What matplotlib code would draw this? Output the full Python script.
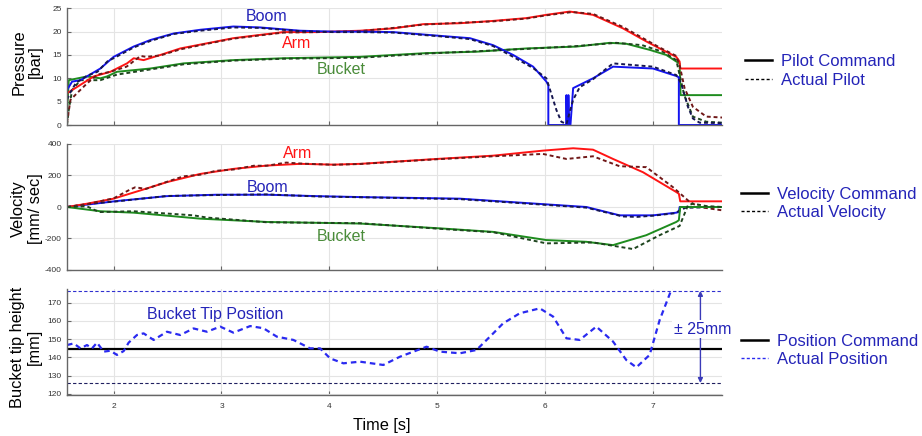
import matplotlib
matplotlib.use("Agg")
import matplotlib.pyplot as plt
from matplotlib.lines import Line2D

plt.rcParams["font.family"] = ["Liberation Sans", "DejaVu Sans"]
plt.rcParams["axes.unicode_minus"] = False

# ---------------- pressure [bar] ----------------
boom_cmd_t = [1.568, 1.615, 1.692, 1.877, 2.0, 2.185, 2.34, 2.556, 2.803, 3.11, 3.358, 3.729,
              4.037, 4.284, 4.593, 5.025, 5.303, 5.519, 5.704, 5.889, 6.012, 6.03, 6.03, 6.195,
              6.198, 6.203, 6.213, 6.216, 6.222, 6.235, 6.26, 6.444, 6.63, 7.0, 7.216, 7.24, 7.24, 7.64]
boom_cmd_p = [7.5, 9.3, 9.6, 12.1, 14.6, 16.8, 18.2, 19.6, 20.4, 21.1, 20.9, 20.2,
              20.0, 20.0, 19.9, 19.1, 18.6, 17.1, 15.0, 12.5, 9.3, 8.5, 0, 0,
              6.4, 0, 0, 6.4, 0, 0, 7.9, 10.0, 12.5, 12.1, 10.5, 10.2, 0, 0]
boom_act_t = [1.568, 1.6, 1.65, 1.75, 1.85, 1.95, 2.0, 2.185, 2.34, 2.556, 2.803, 3.11, 3.358,
              3.729, 4.037, 4.284, 4.593, 5.025, 5.303, 5.519, 5.704, 5.889, 6.012, 6.06, 6.105,
              6.151, 6.198, 6.26, 6.321, 6.444, 6.63, 7.0, 7.216, 7.262, 7.324, 7.37, 7.432, 7.64]
boom_act_p = [5.5, 7.0, 9.0, 10.5, 11.4, 13.8, 14.3, 16.6, 18.0, 19.5, 20.2, 20.9, 20.8,
              20.1, 19.9, 19.9, 19.8, 19.0, 18.4, 16.9, 14.6, 12.2, 10.0, 6.5, 3.2,
              0.7, 0.2, 5.4, 8.1, 9.8, 13.2, 12.5, 10.7, 8.9, 3.9, 1.4, 0.5, 0.4]

arm_cmd_t = [1.568, 1.692, 1.815, 1.97, 2.124, 2.186, 2.278, 2.433, 2.618, 2.865, 3.11, 3.358,
             3.574, 3.883, 4.284, 4.593, 4.87, 5.21, 5.519, 5.827, 6.012, 6.228, 6.444, 6.722,
             6.938, 7.062, 7.216, 7.247, 7.253, 7.64]
arm_cmd_p = [6.8, 8.6, 10.4, 11.4, 13.2, 14.3, 13.9, 15.0, 16.4, 17.5, 18.6, 19.3,
             19.9, 19.9, 20.2, 20.7, 21.6, 21.8, 22.3, 22.9, 23.6, 24.3, 23.6, 20.7,
             17.9, 16.4, 14.6, 13.6, 12.1, 12.1]
arm_act_t = [1.568, 1.6, 1.66, 1.753, 1.85, 1.97, 2.12, 2.25, 2.3, 2.433, 2.618, 2.865, 3.11,
             3.358, 3.574, 3.883, 4.284, 4.593, 4.87, 5.21, 5.519, 5.827, 6.012, 6.25, 6.444,
             6.722, 6.938, 7.062, 7.216, 7.25, 7.293, 7.37, 7.494, 7.64]
arm_act_p = [0.5, 5.4, 6.8, 8.9, 10.8, 11.4, 12.5, 14.8, 14.6, 14.9, 16.2, 17.4, 18.5,
             19.2, 19.8, 19.9, 20.1, 20.8, 21.5, 21.9, 22.2, 22.8, 23.5, 24.2, 23.8,
             21.0, 18.2, 16.6, 14.8, 12.5, 7.9, 3.9, 1.8, 1.6]

bucket_cmd_t = [1.568, 1.584, 1.753, 1.877, 1.939, 2.031, 2.34, 2.648, 3.11, 3.574, 4.284, 4.9,
                5.364, 5.827, 6.29, 6.599, 6.753, 6.969, 7.124, 7.216, 7.247, 7.256, 7.64]
bucket_cmd_p = [2.5, 9.6, 10.4, 10.0, 10.4, 11.4, 12.1, 13.2, 13.9, 14.3, 14.6, 15.4,
                15.7, 16.4, 16.8, 17.6, 17.4, 16.1, 15.0, 13.6, 13.2, 6.4, 6.4]
bucket_act_t = [1.568, 1.584, 1.615, 1.692, 1.877, 2.031, 2.34, 2.648, 3.11, 3.574, 4.284, 4.9,
                5.364, 5.827, 6.29, 6.66, 6.9, 7.1, 7.216, 7.29, 7.37, 7.494, 7.64]
bucket_act_p = [0, 3.2, 7.5, 9.6, 9.6, 10.8, 11.9, 13.0, 13.8, 14.2, 14.4, 15.3,
                15.8, 16.3, 16.9, 17.6, 17.1, 15.6, 13.9, 6.4, 1.8, 0.7, 0.5]

# ---------------- velocity [mm/sec] ----------------
arm_vcmd_t = [1.568, 1.753, 2.0, 2.247, 2.494, 2.803, 3.11, 3.42, 3.729, 4.037, 4.284, 4.994,
              5.519, 5.981, 6.26, 6.444, 6.63, 6.907, 7.216, 7.24, 7.253, 7.64]
arm_vcmd_v = [0, 21, 53, 105, 158, 210, 242, 263, 274, 269, 274, 305,
              326, 358, 373, 364, 305, 221, 95, 84, 36, 36]
arm_vact_t = [1.568, 1.753, 2.0, 2.15, 2.2, 2.3, 2.494, 2.65, 2.803, 2.95, 3.11, 3.3, 3.42,
              3.6, 3.729, 4.037, 4.284, 4.994, 5.519, 5.98, 6.198, 6.444, 6.69, 6.938, 7.185,
              7.324, 7.37, 7.43, 7.64]
arm_vact_v = [0, 18, 55, 110, 125, 115, 160, 195, 205, 230, 238, 262, 262,
              282, 276, 268, 273, 303, 322, 337, 305, 322, 259, 253, 126,
              42, 21, 0, -21]

boom_vcmd_t = [1.568, 2.031, 2.494, 2.957, 3.42, 3.883, 4.284, 5.21, 5.827, 6.383, 6.691, 7.0,
               7.216, 7.24, 7.247, 7.64]
boom_vcmd_v = [0, 38, 69, 78, 78, 69, 63, 53, 25, 0, -53, -53,
               -36, -32, 0, 0]
boom_vact_t = [1.568, 1.8, 2.031, 2.494, 2.957, 3.42, 3.883, 4.284, 5.21, 5.827, 6.383, 6.72,
               6.85, 7.0, 7.2, 7.3, 7.64]
boom_vact_v = [0, 22, 36, 70, 76, 80, 67, 62, 50, 22, -4, -60,
               -63, -55, -40, -5, 0]

bucket_vcmd_t = [1.568, 1.877, 2.185, 2.803, 3.42, 4.284, 5.056, 5.519, 6.012, 6.383, 6.63,
                 6.938, 7.216, 7.24, 7.253, 7.64]
bucket_vcmd_v = [0, -27, -36, -74, -95, -105, -137, -158, -210, -221, -242,
                 -179, -95, -84, 0, 0]
bucket_vact_t = [1.568, 1.753, 1.83, 1.877, 2.185, 2.74, 2.865, 3.42, 4.284, 5.056, 5.519,
                 6.012, 6.444, 6.815, 7.062, 7.247, 7.324, 7.37, 7.494, 7.64]
bucket_vact_v = [0, 4, -21, -32, -27, -53, -67, -97, -103, -140, -160,
                 -231, -225, -267, -179, -120, 10, 21, 6, 0]

# ---------------- bucket tip height [mm] ----------------
pos_cmd = 144.5
pos_upper = 176.5
pos_lower = 126.0
tip_t = [1.568, 1.63, 1.692, 1.753, 1.8, 1.846, 1.908, 1.97, 2.031, 2.093, 2.139, 2.216,
         2.278, 2.371, 2.494, 2.618, 2.741, 2.865, 2.988, 3.11, 3.266, 3.389, 3.513, 3.667,
         3.821, 3.914, 4.007, 4.13, 4.284, 4.5, 4.654, 4.901, 5.025, 5.21, 5.364, 5.519,
         5.611, 5.765, 5.951, 6.074, 6.198, 6.321, 6.475, 6.63, 6.753, 6.846, 6.969, 7.062,
         7.17, 7.2]
tip_h = [146.8, 147.7, 145.0, 146.8, 145.0, 148.1, 143.2, 143.7, 141.4, 143.5, 148.1, 152.3,
         153.2, 149.6, 154.1, 152.3, 155.9, 154.1, 156.9, 153.6, 157.2, 156.0, 151.4, 149.6,
         145.0, 145.0, 139.5, 136.8, 137.7, 135.9, 140.4, 145.9, 143.2, 142.3, 144.1, 153.2,
         158.7, 164.2, 166.9, 162.4, 150.5, 149.6, 156.9, 148.7, 138.6, 134.6, 141.4, 160.5,
         177.0, 182.4]

time_ticks = [2, 3, 4, 5, 6, 7]

RED = "#ff1414"
BLUE = "#1414f0"
GREEN = "#1e8c1e"
RED_D = "#701818"
BLUE_D = "#161650"
GREEN_D = "#1e441e"
TXT_BLUE = "#2424b8"
TXT_GREEN = "#4a8c3a"

W, H = 922, 436
fig = plt.figure(figsize=(W / 100, H / 100), dpi=100)


def px_axes(left, top, right, bottom):
    return fig.add_axes([left / W, 1 - bottom / H, (right - left) / W, (bottom - top) / H])


ax1 = px_axes(66.7, 8.3, 722, 125)
ax2 = px_axes(66.7, 144, 722, 270)
ax3 = px_axes(66.7, 289, 722, 395)

for ax in (ax1, ax2, ax3):
    ax.set_xlim(1.565, 7.64)
    ax.set_xticks(time_ticks)
    ax.grid(True, color="#e4e4e4", lw=0.8)
    ax.set_axisbelow(True)
    for s in ("top", "right"):
        ax.spines[s].set_visible(False)
    for s in ("left", "bottom"):
        ax.spines[s].set_color("#666666")
        ax.spines[s].set_linewidth(1.0)
    ax.tick_params(direction="in", length=3, width=0.8, colors="#666666",
                   labelsize=6, labelcolor="#333333")
ax1.tick_params(axis="x", labelbottom=False)
ax2.tick_params(axis="x", labelbottom=False)
ax3.tick_params(axis="x", pad=6)

dash = (0, (2.0, 1.5))
lw = 1.4
ann = 11.5

# pressure
ax1.plot(bucket_cmd_t, bucket_cmd_p, color=GREEN, lw=lw)
ax1.plot(bucket_act_t, bucket_act_p, color=GREEN_D, lw=lw, ls=dash)
ax1.plot(arm_cmd_t, arm_cmd_p, color=RED, lw=lw)
ax1.plot(arm_act_t, arm_act_p, color=RED_D, lw=lw, ls=dash)
ax1.plot(boom_cmd_t, boom_cmd_p, color=BLUE, lw=lw)
ax1.plot(boom_act_t, boom_act_p, color=BLUE_D, lw=lw, ls=dash)
ax1.set_ylim(0, 25)
ax1.set_yticks([0, 5, 10, 15, 20, 25])
ax1.text(3.42, 23.2, "Boom", color=TXT_BLUE, fontsize=ann, ha="center", va="center")
ax1.text(3.70, 17.5, "Arm", color=RED, fontsize=ann, ha="center", va="center")
ax1.text(4.11, 11.8, "Bucket", color=TXT_GREEN, fontsize=ann, ha="center", va="center")

# velocity
ax2.plot(boom_vcmd_t, boom_vcmd_v, color=BLUE, lw=lw)
ax2.plot(boom_vact_t, boom_vact_v, color=BLUE_D, lw=lw, ls=dash)
ax2.plot(arm_vcmd_t, arm_vcmd_v, color=RED, lw=lw)
ax2.plot(arm_vact_t, arm_vact_v, color=RED_D, lw=lw, ls=dash)
ax2.plot(bucket_vcmd_t, bucket_vcmd_v, color=GREEN, lw=lw)
ax2.plot(bucket_vact_t, bucket_vact_v, color=GREEN_D, lw=lw, ls=dash)
ax2.set_ylim(-400, 400)
ax2.set_yticks([-400, -200, 0, 200, 400])
ax2.text(3.71, 337, "Arm", color=RED, fontsize=ann, ha="center", va="center")
ax2.text(3.43, 126, "Boom", color=TXT_BLUE, fontsize=ann, ha="center", va="center")
ax2.text(4.11, -189, "Bucket", color=TXT_GREEN, fontsize=ann, ha="center", va="center")

# bucket tip
ax3.axhline(pos_upper, color="#3030d0", lw=0.8, ls=(0, (3, 2)))
ax3.axhline(pos_lower, color="#202060", lw=0.8, ls=(0, (3, 2)))
ax3.axhline(pos_cmd, color="black", lw=1.6)
ax3.plot(tip_t, tip_h, color="#2a2af0", lw=1.6, ls=(0, (2.5, 1.8)))
ax3.set_ylim(119.45, 177.5)
ax3.set_yticks([120, 130, 140, 150, 160, 170])
ax3.text(2.94, 163.3, "Bucket Tip Position", color=TXT_BLUE, fontsize=ann,
         ha="center", va="center")
arrow_t = 7.44
for end in (pos_upper, pos_lower):
    ax3.annotate("", xy=(arrow_t, end), xytext=(arrow_t, 155.4),
                 arrowprops=dict(arrowstyle="-|>", color="#3a3ab8", lw=1.0,
                                 mutation_scale=7, shrinkA=0, shrinkB=0))
ax3.text(arrow_t + 0.02, 155.4, "\u00b1 25mm", color=TXT_BLUE, fontsize=ann, ha="center",
         va="center", bbox=dict(facecolor="white", edgecolor="none", pad=1))

# legends at the right
solid_h = Line2D([], [], color="black", lw=1.8)
dash_h = Line2D([], [], color="black", lw=1.0, ls=(0, (2.2, 1.6)))
pos_dash_h = Line2D([], [], color="#2a2af0", lw=1.0, ls=(0, (2.2, 1.6)))
leg_kw = dict(loc="center left", frameon=False, fontsize=12, labelcolor=TXT_BLUE,
              handlelength=1.6, handletextpad=0.55, labelspacing=0.2,
              borderpad=0, borderaxespad=0)
ax1.legend([solid_h, dash_h], ["Pilot Command", "Actual Pilot"],
           bbox_to_anchor=(1.035, 0.463), **leg_kw)
ax2.legend([solid_h, dash_h], ["Velocity Command", "Actual Velocity"],
           bbox_to_anchor=(1.029, 0.528), **leg_kw)
ax3.legend([solid_h, pos_dash_h], ["Position Command", "Actual Position"],
           bbox_to_anchor=(1.029, 0.42), **leg_kw)

# axis labels
lab = 11.8
fig.text(27 / W, 1 - 62 / H, "Pressure\n[bar]", rotation=90, ha="center", va="center",
         fontsize=lab, linespacing=1.1)
fig.text(27 / W, 1 - 209 / H, "Velocity\n[mm/ sec]", rotation=90, ha="center",
         va="center", fontsize=lab, linespacing=1.1)
fig.text(26 / W, 1 - 347 / H, "Bucket tip height\n[mm]", rotation=90, ha="center",
         va="center", fontsize=lab, linespacing=1.1)
fig.text(382 / W, 1 - 425 / H, "Time [s]", ha="center", va="center", fontsize=lab)

fig.savefig("out.png", dpi=100)
